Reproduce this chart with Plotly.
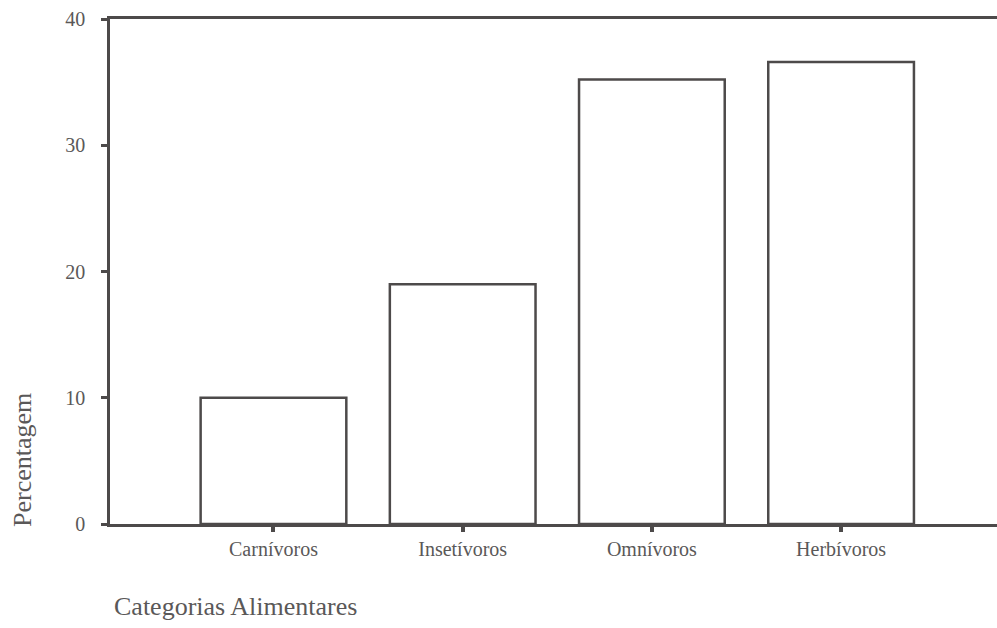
import plotly.graph_objects as go

# Distribution of food categories (percent)
categorias = ["Carnívoros", "Insetívoros", "Omnívoros", "Herbívoros"]
percentagem = [10.0, 19.0, 35.2, 36.6]
y_ticks = [0, 10, 20, 30, 40]

line_col = "#4d4a4a"
text_col = "#5a5858"
font_family = "Liberation Serif, Times New Roman, serif"

fig = go.Figure(
    go.Bar(
        x=categorias,
        y=percentagem,
        marker=dict(color="white", line=dict(color=line_col, width=2.5)),
        hoverinfo="x+y",
    )
)

fig.update_layout(
    width=997,
    height=628,
    margin=dict(l=110, r=0, t=19, b=104),
    paper_bgcolor="white",
    plot_bgcolor="white",
    bargap=0.23,
    showlegend=False,
    font=dict(family=font_family, color=text_col, size=20),
)

fig.update_xaxes(
    type="category",
    range=[-0.864, 3.824],
    showline=True,
    linecolor=line_col,
    linewidth=2.5,
    mirror=True,
    showgrid=False,
    zeroline=False,
    ticks="outside",
    ticklen=5,
    tickwidth=4,
    tickcolor=line_col,
    tickfont=dict(family=font_family, size=20, color=text_col),
)

fig.update_yaxes(
    range=[0, 40],
    tickvals=y_ticks,
    showline=True,
    linecolor=line_col,
    linewidth=2.5,
    mirror=False,
    showgrid=False,
    zeroline=False,
    ticks="outside",
    ticklen=6,
    tickwidth=3,
    tickcolor=line_col,
    ticklabelstandoff=12,
    tickfont=dict(family=font_family, size=20, color=text_col),
)

# Axis titles placed as free text
fig.add_annotation(
    text="Percentagem",
    xref="paper", yref="paper",
    x=-0.098, y=0.127,
    xanchor="center", yanchor="middle",
    textangle=-90,
    showarrow=False,
    font=dict(family=font_family, size=26, color=text_col),
)
fig.add_annotation(
    text="Categorias Alimentares",
    xref="paper", yref="paper",
    x=0.002, y=-0.163,
    xanchor="left", yanchor="middle",
    showarrow=False,
    font=dict(family=font_family, size=26, color=text_col),
)

fig.write_html("out.html")
